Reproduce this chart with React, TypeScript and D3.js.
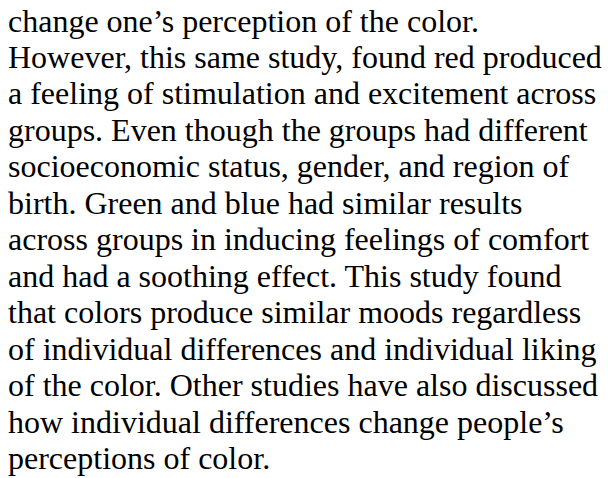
import React, { useEffect, useRef } from 'react';
import * as d3 from 'd3';

// lines of the paragraph as they wrap in the picture
const lines: string[] = [
  'change one\u2019s perception of the color.',
  'However, this same study, found red produced',
  'a feeling of stimulation and excitement across',
  'groups. Even though the groups had different',
  'socioeconomic status, gender, and region of',
  'birth. Green and blue had similar results',
  'across groups in inducing feelings of comfort',
  'and had a soothing effect. This study found',
  'that colors produce similar moods regardless',
  'of individual differences and individual liking',
  'of the color. Other studies have also discussed',
  'how individual differences change people\u2019s',
  'perceptions of color.',
];

const W = 608;
const H = 478;

export default function App() {
  const ref = useRef<SVGSVGElement>(null);

  useEffect(() => {
    if (!ref.current) return;
    const svg = d3.select(ref.current);
    svg.selectAll('*').remove();

    svg.append('rect').attr('width', W).attr('height', H).attr('fill', '#ffffff');

    // baseline of each line
    const y = d3.scaleLinear().domain([0, lines.length - 1]).range([31.5, 469]);

    svg.append('g')
      .selectAll('text')
      .data(lines)
      .join('text')
      .attr('x', 8)
      .attr('y', (_, i) => y(i))
      .attr('font-family', '"Liberation Serif", "Times New Roman", serif')
      .attr('font-size', 32)
      .attr('fill', '#000000')
      .text(d => d);
  }, []);

  return (
    <div style={{ position: 'fixed', left: 0, top: 0, width: W, height: H, background: '#fff' }}>
      <svg ref={ref} width={W} height={H} viewBox={`0 0 ${W} ${H}`} style={{ display: 'block' }} />
    </div>
  );
}
